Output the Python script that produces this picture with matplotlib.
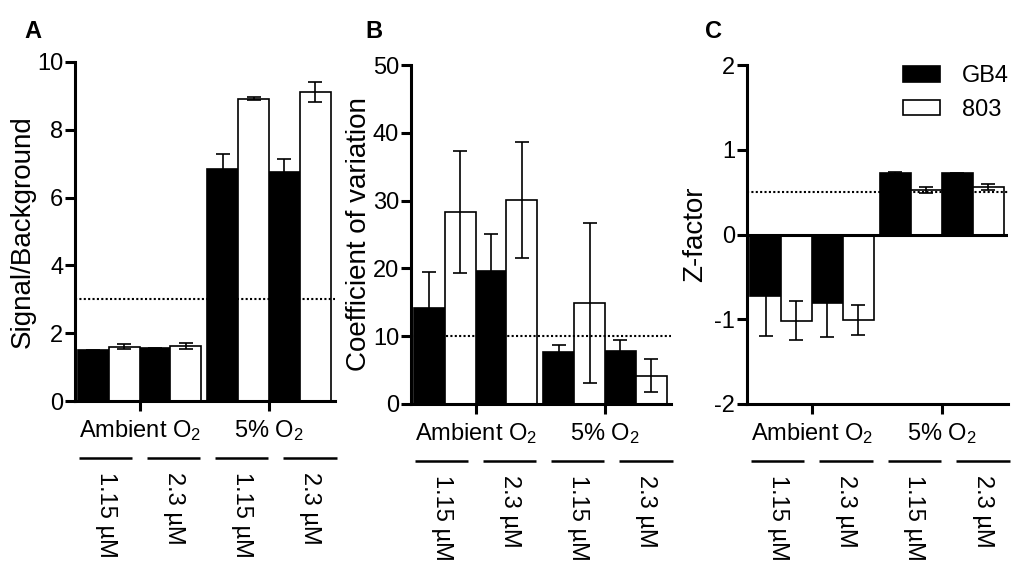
import matplotlib
matplotlib.use('Agg')
import matplotlib.pyplot as plt
from matplotlib.patches import Patch

plt.rcParams['font.family'] = ['Liberation Sans', 'DejaVu Sans']
plt.rcParams['mathtext.fontset'] = 'custom'
plt.rcParams['mathtext.rm'] = 'Liberation Sans'
plt.rcParams['mathtext.it'] = 'Liberation Sans:italic'
plt.rcParams['axes.unicode_minus'] = False

groups = ['Ambient O$_2$', '5% O$_2$']
concs = ['1.15 µM', '2.3 µM', '1.15 µM', '2.3 µM']
series = ['GB4', '803']

# order: ambient 1.15, ambient 2.3, 5% 1.15, 5% 2.3
sb_gb4 = [1.49, 1.55, 6.84, 6.75]
sb_gb4_err = [0.02, 0.02, 0.45, 0.39]
sb_803 = [1.60, 1.63, 8.92, 9.12]
sb_803_err = [0.08, 0.09, 0.05, 0.30]

cv_gb4 = [14.1, 19.6, 7.7, 7.8]
cv_gb4_err = [5.4, 5.5, 1.0, 1.7]
cv_803 = [28.3, 30.1, 14.9, 4.2]
cv_803_err = [9.05, 8.5, 11.8, 2.45]

z_gb4 = [-0.72, -0.81, 0.72, 0.72]
z_gb4_err = [0.48, 0.40, 0.02, 0.01]
z_803 = [-1.02, -1.01, 0.52, 0.56]
z_803_err = [0.23, 0.18, 0.035, 0.035]

W, H = 1017, 562
fig = plt.figure(figsize=(W / 100, H / 100), dpi=100)

gap = 0.2
x_gb4 = [2 * i + gap * (i // 2) for i in range(4)]
x_803 = [2 * i + 1 + gap * (i // 2) for i in range(4)]
group_x = [(x_gb4[0] + x_803[1]) / 2, (x_gb4[2] + x_803[3]) / 2]

LW = 2.2


def panel(rect, letter, gb4, gb4_err, v803, v803_err, ylim, yticks, ylabel, thresh, zero_line=False):
    ax = fig.add_axes(rect)
    ax.bar(x_gb4, gb4, width=1.0, color='black', edgecolor='black', linewidth=1.2, zorder=2)
    ax.bar(x_803, v803, width=1.0, color='white', edgecolor='black', linewidth=1.2, zorder=2)
    ax.errorbar(x_gb4, gb4, yerr=gb4_err, fmt='none', ecolor='black', elinewidth=1.2,
                capsize=5, capthick=1.2, zorder=3)
    ax.errorbar(x_803, v803, yerr=v803_err, fmt='none', ecolor='black', elinewidth=1.2,
                capsize=5, capthick=1.2, zorder=3)
    ax.axhline(thresh, color='black', lw=1.5, linestyle=(0, (1, 1.1)), zorder=4)
    if zero_line:
        ax.axhline(0, color='black', lw=LW, zorder=5)

    ax.set_xlim(-0.6, 7.84)
    ax.set_ylim(*ylim)
    ax.set_yticks(yticks)
    ax.set_xticks(group_x, groups)
    for s in ['top', 'right']:
        ax.spines[s].set_visible(False)
    for s in ['left', 'bottom']:
        ax.spines[s].set_linewidth(LW)
    ax.tick_params(axis='both', width=LW, length=7.5, labelsize=17)
    ax.tick_params(axis='y', pad=1)
    ax.tick_params(axis='x', pad=5)
    ax.text(-0.2, 0.5, ylabel, transform=ax.transAxes, rotation=90,
            ha='center', va='center', fontsize=20)

    # concentration rows under the group labels
    for k, lab in enumerate(concs):
        x0 = 0.015 + k * 0.262
        ax.plot([x0, x0 + 0.205], [-0.168, -0.168], transform=ax.transAxes,
                color='black', lw=1.8, clip_on=False, solid_capstyle='butt')
        ax.text(x0 + 0.1025, -0.208, lab, transform=ax.transAxes, rotation=270,
                ha='center', va='top', fontsize=17)

    fig.text(letter[1] / W, 1 - letter[2] / H, letter[0], fontsize=17,
             fontweight='bold', ha='center', va='center')
    return ax


axA = panel([75 / W, 1 - 401 / H, 260 / W, 339 / H], ('A', 33, 32),
            sb_gb4, sb_gb4_err, sb_803, sb_803_err, (0, 10), range(0, 11, 2),
            'Signal/Background', 3)
axB = panel([411 / W, 1 - 404 / H, 260 / W, 339 / H], ('B', 374, 32),
            cv_gb4, cv_gb4_err, cv_803, cv_803_err, (0, 50), range(0, 51, 10),
            'Coefficient of variation', 10)
axC = panel([747 / W, 1 - 404 / H, 261 / W, 339 / H], ('C', 714, 32),
            z_gb4, z_gb4_err, z_803, z_803_err, (-2, 2), range(-2, 3),
            'Z-factor', 0.5, zero_line=True)

handles = [Patch(facecolor='black', edgecolor='black', linewidth=1.2),
           Patch(facecolor='white', edgecolor='black', linewidth=1.2)]
axC.legend(handles, series, loc='upper left', bbox_to_anchor=(0.598, 1.0),
           frameon=False, fontsize=17, handlelength=1.57, handleheight=0.64,
           handletextpad=0.93, labelspacing=0.5, borderpad=0, borderaxespad=0)

fig.savefig('out.png', dpi=100)
